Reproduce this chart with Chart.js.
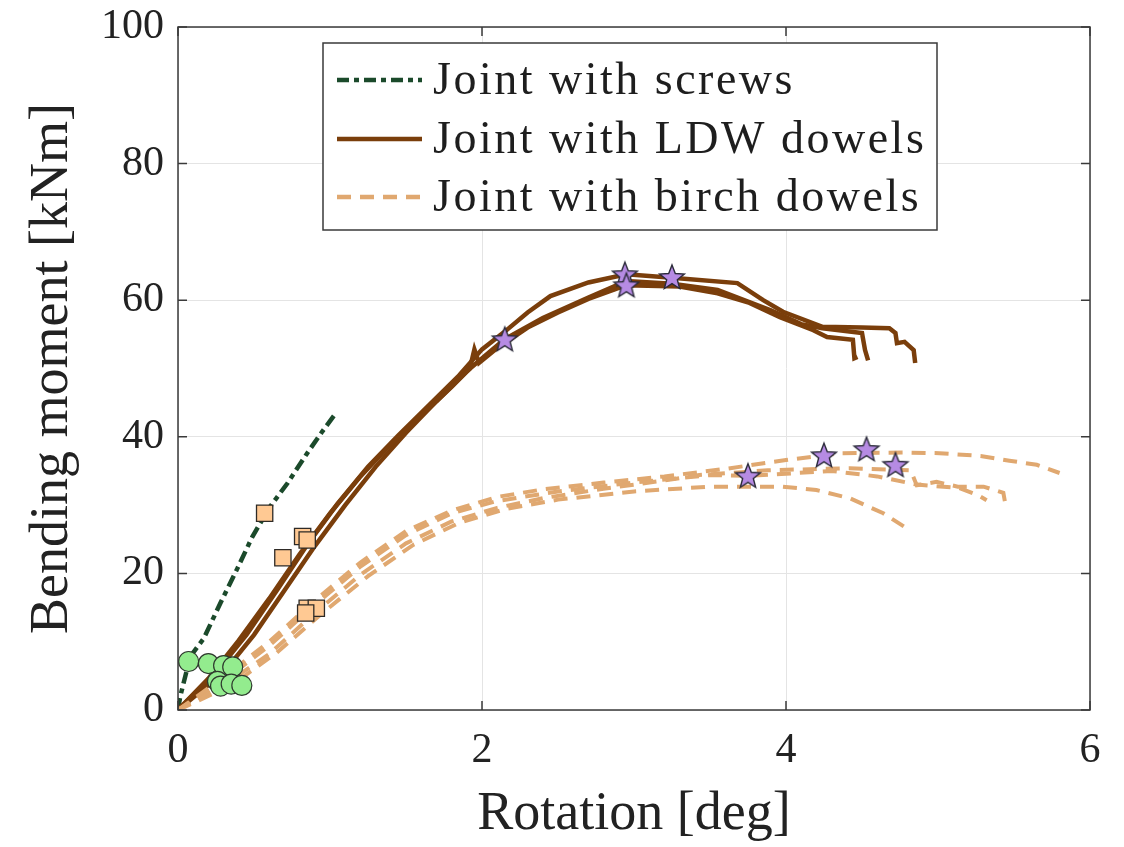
<!DOCTYPE html>
<html>
<head>
<meta charset="utf-8">
<script src="https://cdn.jsdelivr.net/npm/chart.js@4/dist/chart.umd.min.js"></script>
<style>
  html, body { margin: 0; padding: 0; background: #fff; }
  #wrap { width: 1124px; height: 847px; }
</style>
</head>
<body>
<div id="wrap"><canvas id="mycanvas" width="1124" height="847"></canvas></div>
<script>
// axis ticks
var xTicks = [0, 2, 4, 6];
var yTicks = [0, 20, 40, 60, 80, 100];

// rotation [deg], bending moment [kNm]
var screws = [[0,0],[0.015,2],[0.08,7.8],[0.17,10.5],[0.28,15.7],[0.39,20.7],[0.49,25.4],[0.6,29.6],[0.72,33.2],[0.85,37.6],[0.95,40.8],[1.03,43.2]];

var ldw1 = [[0,0],[0.2,4.6],[0.4,10.2],[0.6,16.3],[0.8,22.8],[1.0,28.8],[1.2,34.2],[1.4,38.9],[1.6,43.1],[1.8,47.3],[1.92,50],[1.95,52.8],[1.98,50.8],[2.1,53],[2.3,56],[2.5,58.2],[2.7,60.2],[2.95,62.2],[3.3,62],[3.55,61],[3.76,59.6],[3.96,57.5],[4.18,55.6],[4.27,54.6],[4.44,54.2],[4.45,51.5],[4.47,51.7]];
var ldw2 = [[0,0],[0.25,5.5],[0.45,11],[0.65,17.5],[0.85,24.2],[1.05,30.2],[1.25,35.6],[1.45,40.2],[1.65,44.6],[1.85,49],[2.0,52.8],[2.15,55.4],[2.3,58.2],[2.45,60.6],[2.7,62.6],[2.95,63.8],[3.25,63.3],[3.68,62.5],[3.85,60],[3.98,58.3],[4.24,56.1],[4.5,56],[4.68,55.9],[4.72,55.2],[4.73,53.7],[4.78,53.9],[4.84,52.7],[4.85,50.8]];
var ldw3 = [[0,0],[0.3,5.5],[0.5,11],[0.7,17.5],[0.9,24],[1.1,30],[1.3,35.6],[1.5,40.6],[1.7,45.2],[1.9,49.6],[2.15,54.3],[2.4,57.4],[2.7,60.4],[2.95,62.8],[3.25,62.4],[3.55,61.5],[3.9,58.5],[4.1,56.5],[4.24,55.9],[4.5,55.2],[4.52,52.7],[4.54,51.2]];

var birch1 = [[0,0],[0.3,4.8],[0.6,10],[0.9,16],[1.2,21.6],[1.5,26.2],[1.8,29.2],[2.1,31.2],[2.4,32.3],[2.8,33.3],[3.2,34.2],[3.6,35.3],[4.0,36.6],[4.36,37.6],[4.77,37.7],[5.01,37.6],[5.28,37.2],[5.47,36.5],[5.65,35.9],[5.8,34.7]];
var birch2 = [[0,0],[0.3,3.6],[0.6,8.2],[0.9,14.2],[1.2,19.8],[1.5,24.4],[1.8,27.6],[2.1,29.6],[2.4,31],[2.8,32.4],[3.2,33.6],[3.43,34.4],[3.88,35.1],[4.42,35.4],[4.82,35.1],[4.86,32.9],[4.99,33.4],[5.13,32.7],[5.3,32.7],[5.43,31.8],[5.45,29.3]];
var birch3 = [[0,0],[0.35,3.6],[0.65,8.4],[0.95,14.2],[1.25,19.6],[1.55,24.2],[1.85,27.4],[2.15,29.4],[2.5,30.8],[3.0,32],[3.5,32.7],[3.98,32.7],[4.2,32.2],[4.42,31],[4.64,28.8],[4.78,26.8]];
var birch4 = [[0,0],[0.3,4.3],[0.6,9.4],[0.9,15.4],[1.2,21],[1.5,25.6],[1.8,28.8],[2.1,30.6],[2.5,32],[3.0,33.3],[3.5,34.4],[3.75,34.3],[4.0,34.6],[4.3,35],[4.6,34.2],[4.86,33],[5.14,32.5],[5.26,31.5],[5.32,30.7]];

// marker points
var circlePts = [[0.07,7.1],[0.2,6.8],[0.3,6.5],[0.36,6.3],[0.26,4.2],[0.28,3.5],[0.35,3.8],[0.42,3.6]];
var squarePts = [[0.57,28.8],[0.69,22.3],[0.82,25.4],[0.85,24.9],[0.85,14.9],[0.91,14.9],[0.84,14.2]];
var starPts = [[2.15,54.3],[2.94,63.8],[2.95,62.2],[3.25,63.4],[3.75,34.3],[4.25,37.3],[4.53,38.2],[4.72,35.9]];

var cScrew = "#1b4a2b";
var cLdw = "#7a3e0b";
var cBirch = "#e0a870";
var serif = "'Liberation Serif', 'DejaVu Serif', serif";

function toXY(arr) {
  var out = [];
  for (var i in arr) {
    out.push({ x: arr[i][0], y: arr[i][1] });
  }
  return out;
}

// filled five point star for the point style
function makeStar() {
  var c = document.createElement("canvas");
  c.width = 30; c.height = 30;
  var g = c.getContext("2d");
  g.beginPath();
  for (var i = 0; i < 10; i++) {
    var r = (i % 2 == 0) ? 13 : 5.6;
    var a = -Math.PI / 2 + i * Math.PI / 5;
    var px = 15 + r * Math.cos(a), py = 16 + r * Math.sin(a);
    if (i == 0) g.moveTo(px, py); else g.lineTo(px, py);
  }
  g.closePath();
  g.fillStyle = "#b68be3";
  g.fill();
  g.lineWidth = 1.4;
  g.strokeStyle = "#2b2b3a";
  g.stroke();
  return c;
}

function lineSet(label, data, color, dash, width, order) {
  return {
    label: label,
    data: toXY(data),
    borderColor: color,
    backgroundColor: color,
    borderWidth: width,
    borderDash: dash,
    showLine: true,
    fill: false,
    tension: 0,
    pointRadius: 0,
    pointHoverRadius: 0,
    order: order
  };
}

var datasets = [
  lineSet("Joint with screws", screws, cScrew, [12, 5, 5, 5], 4.5, 5),
  lineSet("Joint with LDW dowels", ldw1, cLdw, [], 4.5, 4),
  lineSet("", ldw2, cLdw, [], 4.5, 4),
  lineSet("", ldw3, cLdw, [], 4.5, 4),
  lineSet("Joint with birch dowels", birch1, cBirch, [14, 9], 4, 3),
  lineSet("", birch2, cBirch, [14, 9], 4, 3),
  lineSet("", birch3, cBirch, [14, 9], 4, 3),
  lineSet("", birch4, cBirch, [14, 9], 4, 3),
  {
    label: "", data: toXY(circlePts), showLine: false, pointStyle: "circle",
    pointRadius: 10, backgroundColor: "#93ec8e", borderColor: "#2e3a2e", borderWidth: 1.2, order: 2
  },
  {
    label: "", data: toXY(squarePts), showLine: false, pointStyle: "rect",
    pointRadius: 11.5, backgroundColor: "#ffc993", borderColor: "#2e2a26", borderWidth: 1.3, order: 1
  },
  {
    label: "", data: toXY(starPts), showLine: false, pointStyle: makeStar(),
    pointRadius: 13, order: 0
  }
];

// box around the axes and inward tick marks
var framePlugin = {
  id: "frame",
  afterDatasetsDraw: function(chart) {
    var a = chart.chartArea, ctx = chart.ctx;
    var xs = chart.scales.x, ys = chart.scales.y;
    ctx.save();
    ctx.strokeStyle = "#3a3a3a";
    ctx.lineWidth = 1.5;
    ctx.strokeRect(a.left, a.top, a.right - a.left, a.bottom - a.top);
    ctx.beginPath();
    xTicks.forEach(function(v) {
      var p = xs.getPixelForValue(v);
      ctx.moveTo(p, a.bottom); ctx.lineTo(p, a.bottom - 9);
      ctx.moveTo(p, a.top); ctx.lineTo(p, a.top + 9);
    });
    yTicks.forEach(function(v) {
      var p = ys.getPixelForValue(v);
      ctx.moveTo(a.left, p); ctx.lineTo(a.left + 9, p);
      ctx.moveTo(a.right, p); ctx.lineTo(a.right - 9, p);
    });
    ctx.stroke();
    ctx.restore();
  }
};

// legend box inside the axes, like the original figure
var legendPlugin = {
  id: "boxLegend",
  afterDraw: function(chart) {
    var ctx = chart.ctx;
    var left = 323, top = 43, w = 614, h = 187;
    ctx.save();
    ctx.fillStyle = "#ffffff";
    ctx.fillRect(left, top, w, h);
    ctx.strokeStyle = "#3a3a3a";
    ctx.lineWidth = 1.5;
    ctx.strokeRect(left, top, w, h);
    ctx.font = "46px " + serif;
    ctx.letterSpacing = "2.5px";
    ctx.textBaseline = "middle";
    var rowY = [80, 139, 197];
    var k = 0;
    chart.data.datasets.forEach(function(ds) {
      if (!ds.label) return;
      var y = rowY[k++];
      ctx.beginPath();
      ctx.setLineDash(ds.borderDash || []);
      ctx.strokeStyle = ds.borderColor;
      ctx.lineWidth = 4.5;
      ctx.moveTo(337, y); ctx.lineTo(422, y);
      ctx.stroke();
      ctx.setLineDash([]);
      ctx.fillStyle = "#1e1e1e";
      ctx.fillText(ds.label, 433, y + 2);
    });
    ctx.restore();
  }
};

var ctx = document.getElementById("mycanvas");

var chart = new Chart(ctx, {
  type: "scatter",
  data: { datasets: datasets },
  options: {
    responsive: false,
    animation: false,
    layout: { padding: { top: 27, right: 34, left: 0, bottom: 0 } },
    scales: {
      x: {
        type: "linear",
        min: 0, max: 6,
        afterFit: function(s) { s.height = 137; },
        afterBuildTicks: function(s) { s.ticks = xTicks.map(function(v) { return { value: v }; }); },
        grid: { color: "#e4e4e4", lineWidth: 1, drawTicks: false },
        border: { display: false },
        ticks: { color: "#222", font: { family: serif, size: 42 }, padding: 16 },
        title: { display: true, text: "Rotation [deg]", color: "#222", font: { family: serif, size: 54 }, padding: { top: 0, bottom: 0 } }
      },
      y: {
        type: "linear",
        min: 0, max: 100,
        afterFit: function(s) { s.width = 178; s.paddingTop = 0; s.paddingBottom = 0; },
        afterBuildTicks: function(s) { s.ticks = yTicks.map(function(v) { return { value: v }; }); },
        grid: { color: "#e4e4e4", lineWidth: 1, drawTicks: false },
        border: { display: false },
        ticks: { color: "#222", font: { family: serif, size: 42 }, padding: 14 },
        title: { display: true, text: "Bending moment [kNm]", color: "#222", font: { family: serif, size: 54 }, padding: { top: 20, bottom: 0 } }
      }
    },
    plugins: {
      legend: { display: false },
      tooltip: { enabled: false }
    }
  },
  plugins: [framePlugin, legendPlugin]
});
</script>
</body>
</html>
